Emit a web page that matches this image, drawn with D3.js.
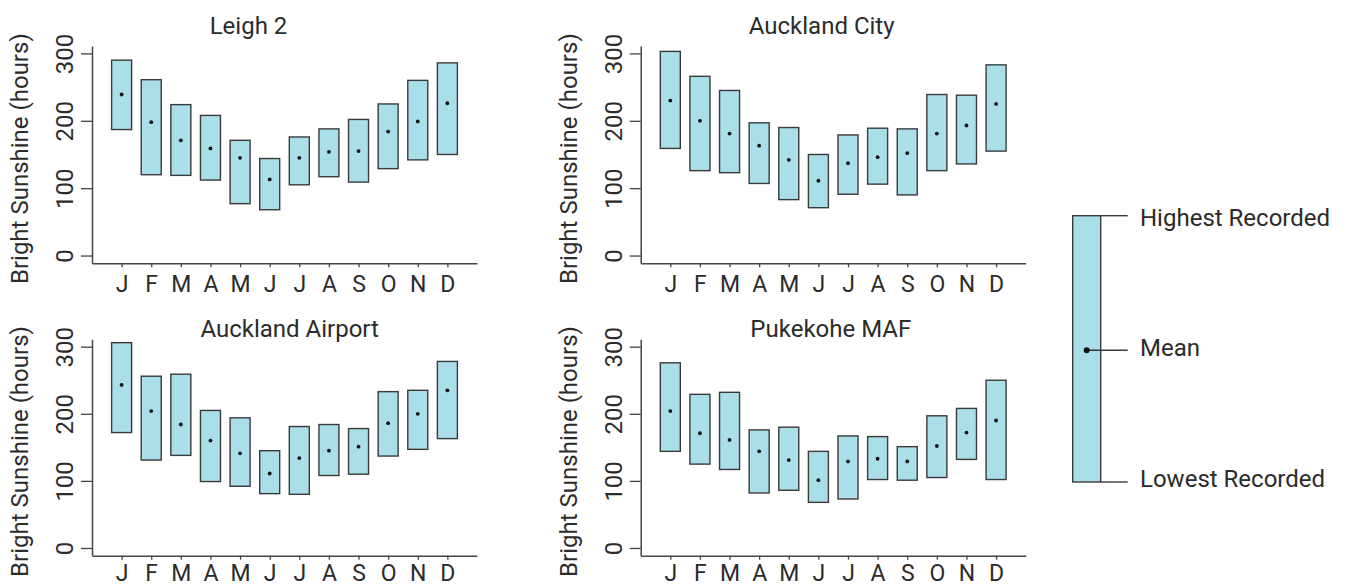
<!DOCTYPE html>
<html>
<head>
<meta charset="utf-8">
<script src="https://cdn.jsdelivr.net/npm/d3@7"></script>
<style>
  html, body { margin: 0; padding: 0; background: #fff; }
  svg { display: block; font-family: Roboto, "Noto Sans", sans-serif; }
</style>
</head>
<body>
<svg id="chart" width="1365" height="586"></svg>
<script>
// ---- data ----
const months = ["J","F","M","A","M","J","J","A","S","O","N","D"];
const yTicks = [0, 100, 200, 300];
const stations = ["Leigh 2", "Auckland City", "Auckland Airport", "Pukekohe MAF"];

const leighHigh = [290, 261, 224, 208, 171, 144, 176, 188, 202, 225, 260, 286];
const leighLow  = [187, 120, 119, 112,  77,  68, 105, 117, 109, 129, 142, 150];
const leighMean = [239, 198, 171, 159, 145, 113, 145, 154, 155, 184, 199, 226];

const cityHigh = [303, 266, 245, 197, 190, 150, 179, 189, 188, 239, 238, 283];
const cityLow  = [159, 126, 123, 107,  83,  71,  91, 106,  90, 126, 136, 155];
const cityMean = [230, 200, 181, 163, 142, 111, 137, 146, 152, 181, 193, 225];

const airportHigh = [306, 256, 259, 205, 194, 145, 181, 184, 178, 233, 235, 278];
const airportLow  = [172, 131, 138,  99,  92,  81,  80, 108, 110, 137, 147, 163];
const airportMean = [243, 204, 184, 160, 141, 111, 134, 145, 151, 186, 200, 235];

const pukeHigh = [276, 229, 232, 176, 180, 144, 167, 166, 151, 197, 208, 250];
const pukeLow  = [144, 125, 117,  82,  86,  68,  73, 102, 101, 105, 132, 102];
const pukeMean = [204, 171, 161, 144, 131, 101, 129, 133, 129, 152, 172, 190];

const highs = [leighHigh, cityHigh, airportHigh, pukeHigh];
const lows  = [leighLow, cityLow, airportLow, pukeLow];
const means = [leighMean, cityMean, airportMean, pukeMean];

const legendLabels = ["Highest Recorded", "Mean", "Lowest Recorded"];

// ---- layout ----
const layout = [
  { left: 92,    top: 46,    bottom: 263.3, titleX: 248.5, titleY: 34,    xLab: 28.4 },
  { left: 640.7, top: 46,    bottom: 263.3, titleX: 821.7, titleY: 34,    xLab: 28.4 },
  { left: 92,    top: 339.3, bottom: 555.7, titleX: 289.7, titleY: 336.7, xLab: 25 },
  { left: 640.7, top: 339.3, bottom: 555.7, titleX: 830.8, titleY: 336.7, xLab: 25 }
];
const plotW = 385;
const fill = "#aadee8";
const stroke = "#3a3a3a";
const textColor = "#2b2b2b";
const fontSize = 24;

const svg = d3.select("#chart");

stations.forEach((name, p) => {
  const L = layout[p];
  const x = d3.scaleLinear().domain([-1, 12]).range([L.left, L.left + plotW]);
  const y = d3.scaleLinear().domain([-11.5, 311]).range([L.bottom, L.top]);
  const g = svg.append("g");

  // y axis
  const ya = g.append("g")
    .attr("transform", `translate(${L.left},0)`)
    .call(d3.axisLeft(y).tickValues(yTicks).tickSize(11).tickSizeOuter(0));
  ya.select(".domain").attr("stroke", "#444").attr("stroke-width", 1.5);
  ya.selectAll(".tick line").attr("stroke", "#444").attr("stroke-width", 1.3);
  ya.selectAll(".tick text")
    .attr("x", 0).attr("y", -18.7).attr("dy", 0)
    .attr("transform", "rotate(-90)")
    .attr("text-anchor", "middle")
    .attr("fill", textColor)
    .style("font-size", fontSize + "px")
    .style("font-family", "Roboto, sans-serif");

  // x axis
  const xa = g.append("g")
    .attr("transform", `translate(0,${L.bottom})`)
    .call(d3.axisBottom(x).tickValues(d3.range(12)).tickFormat(i => months[i]).tickSize(4).tickSizeOuter(0));
  xa.select(".domain").attr("stroke", "#444").attr("stroke-width", 1.5);
  xa.selectAll(".tick line").attr("stroke", "#444").attr("stroke-width", 1.3);
  xa.selectAll(".tick text")
    .attr("y", L.xLab).attr("dy", 0)
    .attr("fill", textColor)
    .style("font-size", "23px")
    .style("font-family", "Roboto, sans-serif");

  // y title
  const yMid = (y(-11.5) + y(311)) / 2 + 4;
  g.append("text")
    .attr("transform", `translate(${L.left - 63.7},${yMid}) rotate(-90)`)
    .attr("text-anchor", "middle")
    .attr("fill", textColor)
    .style("font-size", fontSize + "px")
    .text("Bright Sunshine (hours)");

  // title
  g.append("text")
    .attr("x", L.titleX).attr("y", L.titleY)
    .attr("text-anchor", "middle")
    .attr("fill", textColor)
    .style("font-size", fontSize + "px")
    .text(name);

  // boxes
  const bw = 20;
  g.selectAll("rect.box").data(d3.range(12)).join("rect")
    .attr("class", "box")
    .attr("x", i => x(i) - bw / 2)
    .attr("width", bw)
    .attr("y", i => y(highs[p][i]))
    .attr("height", i => y(lows[p][i]) - y(highs[p][i]))
    .attr("fill", fill)
    .attr("stroke", stroke)
    .attr("stroke-width", 1.4);

  g.selectAll("circle.mean").data(d3.range(12)).join("circle")
    .attr("class", "mean")
    .attr("cx", i => x(i))
    .attr("cy", i => y(means[p][i]))
    .attr("r", 1.9)
    .attr("fill", "#111");
});

// ---- legend ----
const lg = svg.append("g");
const lx0 = 1072.7, lx1 = 1100.7, lTop = 215.7, lBot = 482, lMean = 350.3, lEnd = 1127.7;
lg.append("rect")
  .attr("x", lx0).attr("y", lTop).attr("width", lx1 - lx0).attr("height", lBot - lTop)
  .attr("fill", fill).attr("stroke", stroke).attr("stroke-width", 1.4);
lg.append("line").attr("x1", lx1).attr("x2", lEnd).attr("y1", lTop).attr("y2", lTop)
  .attr("stroke", stroke).attr("stroke-width", 1.4);
lg.append("line").attr("x1", lx1).attr("x2", lEnd).attr("y1", lBot).attr("y2", lBot)
  .attr("stroke", stroke).attr("stroke-width", 1.4);
lg.append("line").attr("x1", 1086.7).attr("x2", lEnd).attr("y1", lMean).attr("y2", lMean)
  .attr("stroke", stroke).attr("stroke-width", 1.4);
lg.append("circle").attr("cx", 1086.7).attr("cy", lMean).attr("r", 3).attr("fill", "#111");
const legendY = [lTop + 10, lMean + 5.5, lBot + 5.3];
lg.selectAll("text").data(legendLabels).join("text")
  .attr("x", 1140)
  .attr("y", (d, i) => legendY[i])
  .attr("fill", textColor)
  .style("font-size", fontSize + "px")
  .text(d => d);
</script>
</body>
</html>
